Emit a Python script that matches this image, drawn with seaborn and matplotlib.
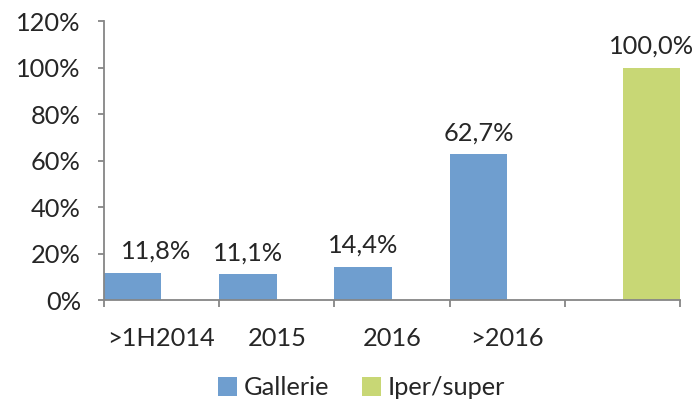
import matplotlib
matplotlib.use("Agg")
import matplotlib.pyplot as plt
import pandas as pd
import seaborn as sns
from matplotlib.ticker import FixedLocator, PercentFormatter

# ----------------------------------------------------------
# DATA
# ----------------------------------------------------------

categories = [">1H2014", "2015", "2016", ">2016", ""]
series = ["Gallerie", "Iper/super"]
gallerie = [0.118, 0.111, 0.144, 0.627]
iper_super = [1.000]
iper_cats = [""]

colors = {"Gallerie": "#6f9ecf", "Iper/super": "#c8d775"}
GREY = "#868686"

df = pd.DataFrame({
    "cat": categories[:4] + iper_cats,
    "serie": ["Gallerie"] * len(gallerie) + ["Iper/super"] * len(iper_super),
    "val": gallerie + iper_super,
})

# ----------------------------------------------------------
# PLOT
# ----------------------------------------------------------

sns.set_style("white")
plt.rcParams["font.family"] = ["Lato", "DejaVu Sans"]
FS = 18.3

fig = plt.figure(figsize=(6.97, 4.04), dpi=100)
ax = fig.add_axes([0.149, 0.257, 0.827, 0.691])

sns.barplot(data=df, x="cat", y="val", hue="serie", order=categories,
            hue_order=series, palette=colors, width=1.0, dodge=True,
            saturation=1, linewidth=0, errorbar=None, ax=ax)

ax.set_xlim(-0.5, len(categories) - 0.5)
ax.set_ylim(0, 1.2)
ax.set_xlabel("")
ax.set_ylabel("")

ax.yaxis.set_major_locator(FixedLocator([0, 0.2, 0.4, 0.6, 0.8, 1.0, 1.2]))
ax.yaxis.set_major_formatter(PercentFormatter(1.0, decimals=0))
ax.tick_params(axis="y", length=4.5, width=1.3, color=GREY, pad=12,
               labelsize=FS, left=True)
ax.tick_params(axis="x", which="major", length=0, pad=19, labelsize=FS)
ax.set_xticks([i - 0.5 for i in range(len(categories) + 1)], minor=True)
ax.tick_params(axis="x", which="minor", length=5, width=1.3, color=GREY,
               bottom=True)

for s in ["top", "right"]:
    ax.spines[s].set_visible(False)
for s in ["left", "bottom"]:
    ax.spines[s].set_color(GREY)
    ax.spines[s].set_linewidth(1.3)

# value labels with comma decimals
for cont in ax.containers:
    labels = [f"{b.get_height() * 100:.1f}%".replace(".", ",")
              if b.get_height() > 0 else "" for b in cont]
    anns = ax.bar_label(cont, labels=labels, padding=7, fontsize=FS)
    if cont is ax.containers[0]:
        anns[0].xyann = (17, 7)

handles, labs = ax.get_legend_handles_labels()
ax.get_legend().remove()
fig.legend(handles, labs, loc="lower center", bbox_to_anchor=(0.519, -0.045),
           ncol=2, frameon=False, fontsize=FS, handlelength=0.75,
           handleheight=0.75, handletextpad=0.25, columnspacing=1.3)

fig.savefig("out.png", dpi=100)
